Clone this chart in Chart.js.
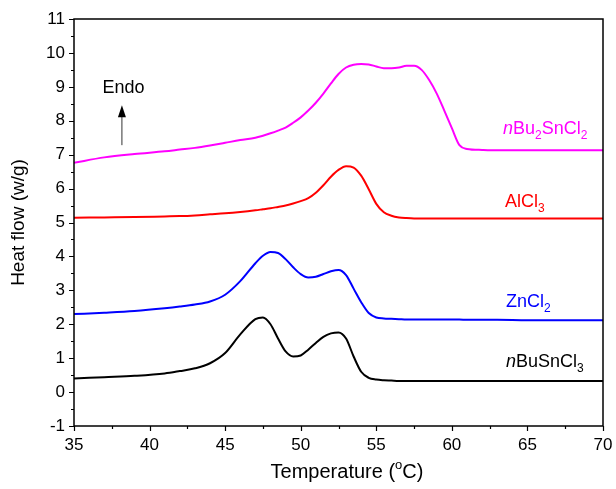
<!DOCTYPE html>
<html>
<head>
<meta charset="utf-8">
<script src="https://cdn.jsdelivr.net/npm/chart.js@4.4.0/dist/chart.umd.min.js"></script>
<style>
  body { margin: 0; background: #fff; }
  #wrap { width: 616px; height: 489px; }
</style>
</head>
<body>
<div id="wrap"><canvas id="dsc" width="616" height="489"></canvas></div>
<script>
// temperature grid (°C) shared by all curves
var temps = [35, 37, 39, 41, 42, 43, 44, 45, 46, 47, 47.5, 48, 48.5, 49, 49.5, 50, 50.5, 51, 51.5, 52,
  52.5, 53, 53.5, 54, 54.5, 55, 55.5, 56, 56.5, 57, 57.5, 58, 58.5, 59, 59.5, 60, 60.5, 61, 62, 63, 65, 67, 70];

// heat flow (w/g)
var nBu2SnCl2 = [6.76, 6.92, 7.02, 7.1, 7.15, 7.2, 7.27, 7.35, 7.43, 7.5, 7.56, 7.63, 7.71, 7.8, 7.94, 8.1,
  8.3, 8.53, 8.8, 9.1, 9.38, 9.57, 9.65, 9.67, 9.66, 9.6, 9.55, 9.55, 9.57, 9.62, 9.62, 9.5, 9.2, 8.8,
  8.3, 7.78, 7.28, 7.17, 7.14, 7.13, 7.13, 7.13, 7.13];
var AlCl3 = [5.14, 5.15, 5.16, 5.18, 5.19, 5.21, 5.24, 5.27, 5.31, 5.36, 5.39, 5.42, 5.46, 5.5, 5.56, 5.63,
  5.72, 5.88, 6.1, 6.35, 6.55, 6.66, 6.62, 6.38, 5.98, 5.55, 5.3, 5.2, 5.15, 5.13, 5.12, 5.12, 5.12, 5.12,
  5.12, 5.12, 5.12, 5.12, 5.12, 5.12, 5.12, 5.12, 5.12];
var ZnCl2 = [2.3, 2.34, 2.39, 2.47, 2.52, 2.58, 2.67, 2.87, 3.27, 3.8, 4.02, 4.13, 4.1, 3.92, 3.68, 3.48,
  3.38, 3.4, 3.48, 3.56, 3.6, 3.45, 3.05, 2.65, 2.33, 2.2, 2.17, 2.16, 2.15, 2.14, 2.14, 2.14, 2.14, 2.14,
  2.14, 2.14, 2.14, 2.13, 2.13, 2.13, 2.12, 2.12, 2.12];
var nBuSnCl3 = [0.4, 0.44, 0.48, 0.55, 0.62, 0.7, 0.85, 1.15, 1.7, 2.15, 2.2, 2.0, 1.58, 1.2, 1.05, 1.08,
  1.25, 1.45, 1.63, 1.73, 1.76, 1.58, 1.05, 0.6, 0.42, 0.37, 0.35, 0.34, 0.33, 0.33, 0.33, 0.33, 0.33, 0.33,
  0.33, 0.33, 0.33, 0.33, 0.33, 0.33, 0.33, 0.33, 0.33];

var xTicks = [35, 40, 45, 50, 55, 60, 65, 70];
var yTicks = [-1, 0, 1, 2, 3, 4, 5, 6, 7, 8, 9, 10, 11];

var FONT = '"Liberation Sans", Arial, sans-serif';

function pts(vals) {
  var out = [];
  for (var i = 0; i < temps.length; i++) {
    out.push({ x: temps[i], y: vals[i] });
  }
  return out;
}

function line(label, vals, color) {
  return {
    label: label,
    data: pts(vals),
    borderColor: color,
    borderWidth: 2,
    pointRadius: 0,
    fill: false,
    cubicInterpolationMode: 'monotone'
  };
}

// label with italic prefix and subscripts: parts = [[text, 'n'|'i'|'s'], ...]
function richText(ctx, parts, x, y, color) {
  ctx.fillStyle = color;
  ctx.textAlign = 'left';
  ctx.textBaseline = 'alphabetic';
  for (var i = 0; i < parts.length; i++) {
    var t = parts[i][0], kind = parts[i][1];
    if (kind == 's') {
      ctx.font = '12px ' + FONT;
      ctx.fillText(t, x, y + 5);
    } else if (kind == 'i') {
      ctx.font = 'italic 18px ' + FONT;
      ctx.fillText(t, x, y);
    } else {
      ctx.font = '18px ' + FONT;
      ctx.fillText(t, x, y);
    }
    x += ctx.measureText(t).width;
  }
}

var decor = {
  id: 'decor',
  afterDraw: function(chart) {
    var ctx = chart.ctx;
    var xs = chart.scales.x, ys = chart.scales.y;
    var a = chart.chartArea;
    ctx.save();

    // frame
    ctx.strokeStyle = '#000';
    ctx.lineWidth = 1.5;
    ctx.strokeRect(a.left, a.top, a.right - a.left, a.bottom - a.top);

    // ticks, outward
    ctx.lineWidth = 1.2;
    ctx.beginPath();
    for (var v = -1; v <= 11.001; v += 0.5) {
      var py = Math.round(ys.getPixelForValue(v)) + 0.5;
      var len = (Math.abs(v - Math.round(v)) < 0.01) ? 5 : 3;
      ctx.moveTo(a.left, py);
      ctx.lineTo(a.left - len, py);
    }
    for (var t = 35; t <= 70.001; t += 2.5) {
      var px = Math.round(xs.getPixelForValue(t)) + 0.5;
      var len2 = (t % 5 == 0) ? 5 : 3;
      ctx.moveTo(px, a.bottom);
      ctx.lineTo(px, a.bottom + len2);
    }
    ctx.stroke();

    // axis titles
    ctx.fillStyle = '#000';
    ctx.textBaseline = 'middle';
    ctx.textAlign = 'left';
    var cx = 347;
    var p1 = 'Temperature (', p2 = 'o', p3 = 'C)';
    ctx.font = '20px ' + FONT;
    var w1 = ctx.measureText(p1).width, w3 = ctx.measureText(p3).width;
    ctx.font = '13px ' + FONT;
    var w2 = ctx.measureText(p2).width;
    var sx = cx - (w1 + w2 + w3) / 2;
    ctx.font = '20px ' + FONT;
    ctx.fillText(p1, sx, 472);
    ctx.font = '13px ' + FONT;
    ctx.fillText(p2, sx + w1, 465);
    ctx.font = '20px ' + FONT;
    ctx.fillText(p3, sx + w1 + w2, 472);

    ctx.save();
    ctx.translate(19, (a.top + a.bottom) / 2);
    ctx.rotate(-Math.PI / 2);
    ctx.textAlign = 'center';
    ctx.font = '19px ' + FONT;
    ctx.fillText('Heat flow (w/g)', 0, 0);
    ctx.restore();

    // Endo arrow
    var ax = xs.getPixelForValue(38.17);
    var ay0 = ys.getPixelForValue(7.28), ay1 = ys.getPixelForValue(8.46);
    ctx.strokeStyle = '#333';
    ctx.lineWidth = 1;
    ctx.beginPath();
    ctx.moveTo(ax, ay0);
    ctx.lineTo(ax, ay1 + 10);
    ctx.stroke();
    ctx.fillStyle = '#000';
    ctx.beginPath();
    ctx.moveTo(ax, ay1);
    ctx.lineTo(ax - 4, ay1 + 12);
    ctx.lineTo(ax + 4, ay1 + 12);
    ctx.closePath();
    ctx.fill();
    ctx.font = '18px ' + FONT;
    ctx.textAlign = 'center';
    ctx.textBaseline = 'middle';
    ctx.fillText('Endo', xs.getPixelForValue(38.27), ys.getPixelForValue(8.95));

    // curve labels
    richText(ctx, [['n', 'i'], ['Bu', 'n'], ['2', 's'], ['SnCl', 'n'], ['2', 's']],
      xs.getPixelForValue(63.38), ys.getPixelForValue(7.6), '#ff00ff');
    richText(ctx, [['AlCl', 'n'], ['3', 's']],
      xs.getPixelForValue(63.52), ys.getPixelForValue(5.47), '#ff0000');
    richText(ctx, [['ZnCl', 'n'], ['2', 's']],
      xs.getPixelForValue(63.58), ys.getPixelForValue(2.52), '#0000ff');
    richText(ctx, [['n', 'i'], ['BuSnCl', 'n'], ['3', 's']],
      xs.getPixelForValue(63.58), ys.getPixelForValue(0.75), '#000000');

    ctx.restore();
  }
};

var chart = new Chart(document.getElementById('dsc'), {
  type: 'line',
  data: {
    datasets: [
      line('nBu2SnCl2', nBu2SnCl2, '#ff00ff'),
      line('AlCl3', AlCl3, '#ff0000'),
      line('ZnCl2', ZnCl2, '#0000ff'),
      line('nBuSnCl3', nBuSnCl3, '#000000')
    ]
  },
  options: {
    responsive: false,
    animation: false,
    layout: { padding: { top: 19, right: 13, left: 0, bottom: 0 } },
    plugins: { legend: { display: false }, tooltip: { enabled: false } },
    scales: {
      x: {
        type: 'linear',
        min: 35, max: 70,
        afterFit: function(s) { s.height = 63; s.paddingLeft = 0; s.paddingRight = 0; },
        afterBuildTicks: function(s) { s.ticks = xTicks.map(function(v) { return { value: v }; }); },
        grid: { display: false, drawTicks: false },
        border: { display: false },
        ticks: { color: '#000', font: { family: FONT, size: 17 }, padding: 9, maxRotation: 0 }
      },
      y: {
        type: 'linear',
        min: -1, max: 11,
        afterFit: function(s) { s.width = 74; s.paddingTop = 0; s.paddingBottom = 0; },
        afterBuildTicks: function(s) { s.ticks = yTicks.map(function(v) { return { value: v }; }); },
        grid: { display: false, drawTicks: false },
        border: { display: false },
        ticks: { color: '#000', font: { family: FONT, size: 17 }, padding: 9 }
      }
    }
  },
  plugins: [decor]
});
</script>
</body>
</html>
